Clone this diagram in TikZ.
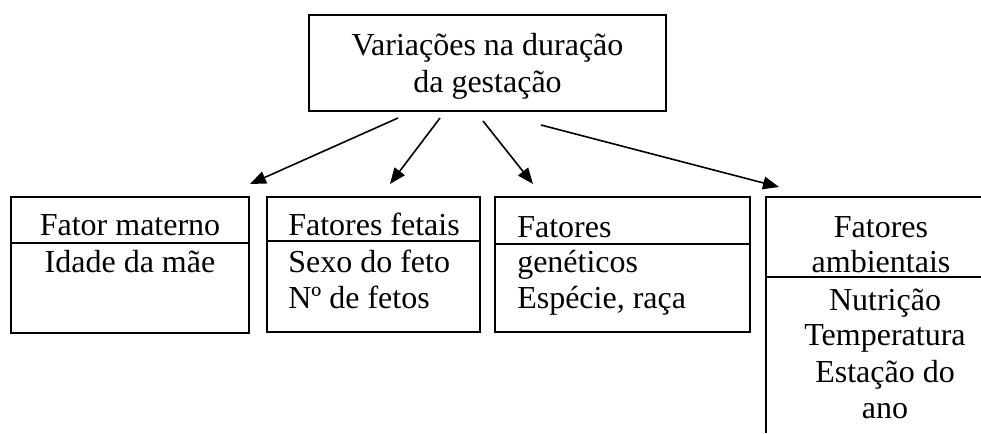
\documentclass[tikz,border=0pt]{standalone}
\usepackage{fontspec}
\setmainfont{Liberation Serif}
\usetikzlibrary{arrows.meta}
\begin{document}
\begin{tikzpicture}[x=0.75pt,y=-0.75pt,
  box/.style={line width=1.2pt},
  conn/.style={line width=1.2pt,-{Triangle[length=12pt,width=9.5pt]}},
  lbl/.style={anchor=base,inner sep=0pt,font=\fontsize{24pt}{27pt}\selectfont},
  lbll/.style={lbl,anchor=base west}]
\useasboundingbox (0,0) rectangle (981,433);
% top box
\draw[box] (309,15) rectangle (666,111);
\node[lbl] (t1) at (487.5,55) {Variações na duração};
\node[lbl] (t2) at (487.5,92) {da gestação};
% box 1
\draw[box] (11,197) rectangle (249,333);
\draw[box] (11,243) -- (249,243);
\node[lbl] (a1) at (130,235) {Fator materno};
\node[lbl] (a2) at (130,272) {Idade da mãe};
% box 2
\draw[box] (267,197) rectangle (480,332);
\draw[box] (267,241) -- (480,241);
\node[lbll] (b1) at (288,235) {Fatores fetais};
\node[lbll] (b2) at (288,272) {Sexo do feto};
\node[lbll] (b3) at (288,308) {Nº de fetos};
% box 3
\draw[box] (495,197) rectangle (750,332);
\draw[box] (495,244) -- (750,244);
\node[lbll] (c1) at (517,237) {Fatores};
\node[lbll] (c2) at (517,272) {genéticos};
\node[lbll] (c3) at (517,308) {Espécie, raça};
% box 4 (open)
\draw[box] (981,197) -- (766,197) -- (766,433);
\draw[box] (766,277) -- (981,277);
\node[lbl] (d1) at (881,237) {Fatores};
\node[lbl] (d2) at (881,272) {ambientais};
\node[lbl] (d3) at (885,310) {Nutrição};
\node[lbl] (d4) at (885,345) {Temperatura};
\node[lbl] (d5) at (885,382) {Estação do};
\node[lbl] (d6) at (885,418) {ano};
% connectors
\coordinate (s1) at (398,118); \coordinate (e1) at (250,184);
\coordinate (s2) at (440,118); \coordinate (e2) at (390,184);
\coordinate (s3) at (483,121); \coordinate (e3) at (533,184);
\coordinate (s4) at (541,125); \coordinate (e4) at (779,187);
\draw[conn] (s1) -- (e1);
\draw[conn] (s2) -- (e2);
\draw[conn] (s3) -- (e3);
\draw[conn] (s4) -- (e4);
\end{tikzpicture}
\end{document}
